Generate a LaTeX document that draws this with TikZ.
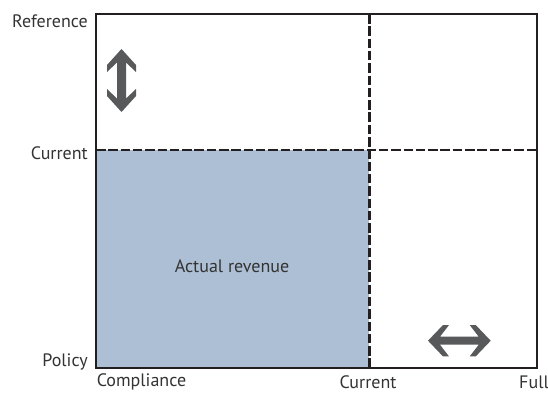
\documentclass[tikz,border=0pt]{standalone}
\usepackage{fontspec}
\setmainfont{PT Sans}
\begin{document}
\begin{tikzpicture}[x=1pt,y=-1pt,
  lbl/.style={font=\fontsize{18}{20}\selectfont, text=txtgray, inner sep=0pt},
  frame/.style={line width=2.6pt, draw=framecol},
  dashline/.style={line width=2.6pt, draw=framecol, dash pattern=on 9.5pt off 2.8pt},
  arrowshape/.style={fill=arrgray, draw=none}]
\definecolor{framecol}{HTML}{231F20}
\definecolor{txtgray}{HTML}{333333}
\definecolor{fillblue}{HTML}{ADBFD4}
\definecolor{arrgray}{HTML}{58595B}
\useasboundingbox (0,0) rectangle (548,392);
% filled region
\fill[fillblue] (96,150) rectangle (368.5,368);
\coordinate (tl) at (96,14);
\coordinate (br) at (537,368);
\coordinate (cy) at (96,150);
\coordinate (cyr) at (537,150);
\coordinate (cx) at (369.5,14);
\coordinate (cxb) at (369.5,368);
\draw[dashline] (cy) -- (cyr);
\draw[dashline] (cx) -- (cxb);
\draw[frame] (tl) rectangle (br);
% vertical double arrow
\fill[arrowshape] (121.5,49) -- (136,65) -- (136,72) -- (126,62.5) -- (126,98.5) -- (136,89) -- (136,96) -- (121.5,112)
  -- (107,96) -- (107,89) -- (117,98.5) -- (117,62.5) -- (107,72) -- (107,65) -- cycle;
% horizontal double arrow
\fill[arrowshape] (428,340.7) -- (443,325) -- (449,325) -- (440,336.7) -- (478.7,336.7) -- (469.7,325) -- (475.7,325) -- (490.7,340.7)
  -- (475.7,356.4) -- (469.7,356.4) -- (478.7,344.7) -- (440,344.7) -- (449,356.4) -- (443,356.4) -- cycle;
% labels
\node[lbl, anchor=east] (ref) at (88,21) {Reference};
\node[lbl, anchor=east] (curl) at (88,153) {Current};
\node[lbl, anchor=east] (pol) at (88,362) {Policy};
\node[lbl] (comp) at (141.5,382) {Compliance};
\node[lbl] (curb) at (368,382) {Current};
\node[lbl] (full) at (534,382) {Full};
\node[lbl] (act) at (232,266) {Actual revenue};
\end{tikzpicture}
\end{document}
